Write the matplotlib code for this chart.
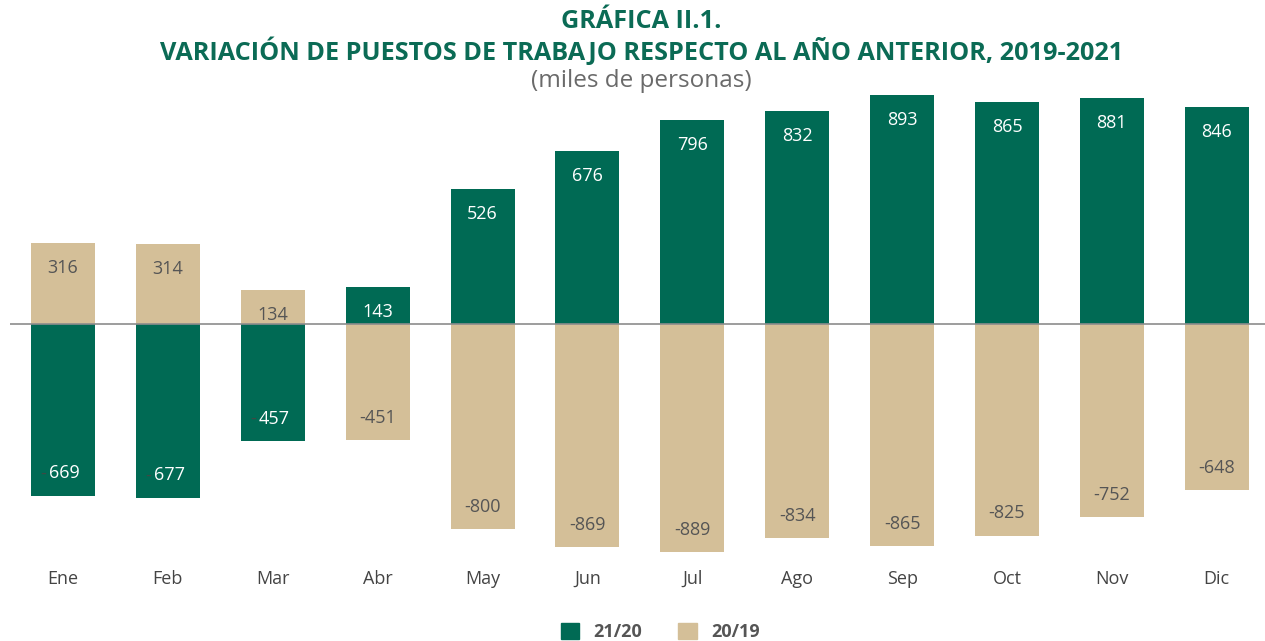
import matplotlib.pyplot as plt
from matplotlib.patches import Patch
from matplotlib.offsetbox import TextArea, HPacker, AnnotationBbox

plt.rcParams['font.family'] = ['Open Sans', 'DejaVu Sans']

months = ["Ene", "Feb", "Mar", "Abr", "May", "Jun", "Jul", "Ago", "Sep", "Oct", "Nov", "Dic"]
v_21_20 = [-669, -677, -457, 143, 526, 676, 796, 832, 893, 865, 881, 846]
v_20_19 = [316, 314, 134, -451, -800, -869, -889, -834, -865, -825, -752, -648]

GREEN = "#006a54"
TAN = "#d4bf98"
GRAY = "#555555"
TITLE = "#0b6b55"

fig = plt.figure(figsize=(12.65, 6.41), dpi=100)
ax = fig.add_axes([0.0079, 0.1343, 0.9921, 0.7203])

x = list(range(len(months)))
w = 0.61
ax.bar(x, v_20_19, width=w, color=TAN, zorder=2)
ax.bar(x, v_21_20, width=w, color=GREEN, zorder=2)
ax.axhline(0, color="#8c8c8c", lw=1.2, zorder=3)


def label(xi, val, on_green):
    off = -18 if val > 0 else 16
    txt_color = "white" if on_green else GRAY
    if val < 0 and on_green:
        box = HPacker(children=[
            TextArea("-", textprops=dict(color="#3d4a44", fontsize=13)),
            TextArea(str(abs(val)), textprops=dict(color="white", fontsize=13)),
        ], align="baseline", pad=0, sep=2)
        ab = AnnotationBbox(box, (xi, val), xybox=(-2, off), boxcoords="offset points",
                            frameon=False, box_alignment=(0.5, 0.5), zorder=4)
        ax.add_artist(ab)
    else:
        ax.annotate(str(val), (xi, val), xytext=(0, off), textcoords="offset points",
                    ha="center", va="center", color=txt_color, fontsize=13, zorder=4)


for xi, a, b in zip(x, v_21_20, v_20_19):
    label(xi, a, True)
    label(xi, b, False)

ax.set_xlim(-0.505, 11.46)
ax.set_ylim(-900, 900)
ax.set_xticks(x)
ax.set_xticklabels(months, fontsize=13, color="#444444")
ax.tick_params(axis="x", length=0, pad=11)
ax.set_yticks([])
for s in ax.spines.values():
    s.set_visible(False)

fig.text(0.507, 0.966, "GRÁFICA II.1.", ha="center", va="center",
         fontsize=18.2, fontweight="bold", color=TITLE)
fig.text(0.507, 0.920, "VARIACIÓN DE PUESTOS DE TRABAJO RESPECTO AL AÑO ANTERIOR, 2019-2021",
         ha="center", va="center", fontsize=18.2, fontweight="bold", color=TITLE)
fig.text(0.507, 0.873, "(miles de personas)", ha="center", va="center",
         fontsize=17.5, color="#6a6a6a")

handles = [Patch(color=GREEN, label="21/20"), Patch(color=TAN, label="20/19")]
fig.legend(handles=handles, loc="lower center", bbox_to_anchor=(0.522, -0.025), ncol=2,
           frameon=False, handlelength=1.0, handleheight=1.0, columnspacing=2.0,
           prop=dict(size=13, weight="bold"), labelcolor=GRAY)

fig.savefig("out.png", dpi=100)
